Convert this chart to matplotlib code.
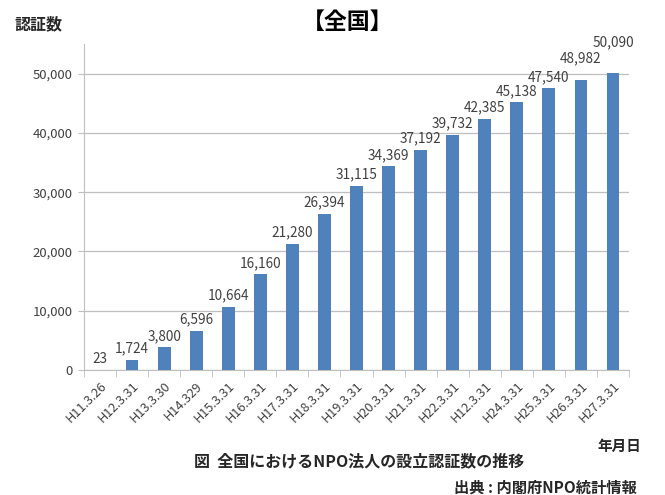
import matplotlib
matplotlib.use("Agg")
import matplotlib.pyplot as plt
import numpy as np

plt.rcParams['font.family'] = ['Noto Sans CJK JP', 'DejaVu Sans']

# Data
dates = ['H11.3.26', 'H12.3.31', 'H13.3.30', 'H14.329', 'H15.3.31', 'H16.3.31',
         'H17.3.31', 'H18.3.31', 'H19.3.31', 'H20.3.31', 'H21.3.31', 'H22.3.31',
         'H12.3.31', 'H24.3.31', 'H25.3.31', 'H26.3.31', 'H27.3.31']
counts = [23, 1724, 3800, 6596, 10664, 16160, 21280, 26394, 31115, 34369,
          37192, 39732, 42385, 45138, 47540, 48982, 50090]

# extra lift for labels that Excel pushed up to avoid overlap (points)
label_lift = [0] * 15 + [7, 14]

bar_color = '#4F81BD'
grid_color = '#BFBFBF'
text_color = '#404040'

fig = plt.figure(figsize=(6.65, 4.95), dpi=100)
ax = fig.add_axes([0.1263, 0.2525, 0.8196, 0.6586])

x = np.arange(len(counts))
ax.bar(x, counts, width=0.4, color=bar_color, zorder=3)

for xi, v, lift in zip(x, counts, label_lift):
    ax.annotate(f"{v:,}", (xi, v), xytext=(0, 3 + lift), textcoords='offset points',
                ha='center', va='bottom', fontsize=9.8, color=text_color,
                annotation_clip=False)

ax.set_xlim(-0.5, len(counts) - 0.5)
ax.set_ylim(0, 55000)
ax.set_yticks(np.arange(0, 50001, 10000))
ax.set_yticklabels([f"{t:,}" for t in range(0, 50001, 10000)], fontsize=9.5, color=text_color)
ax.yaxis.grid(True, color=grid_color, linewidth=0.9, zorder=0)

ax.set_xticks(x)
ax.set_xticklabels(dates, rotation=45, ha='right', rotation_mode='anchor',
                   fontsize=9.2, color=text_color)
ax.tick_params(axis='x', length=0, pad=7)
ax.set_xticks(np.arange(-0.5, len(counts), 1), minor=True)
ax.tick_params(axis='x', which='minor', length=5, color=grid_color)
ax.tick_params(axis='y', length=4, color=grid_color, pad=4)

for side in ['top', 'right']:
    ax.spines[side].set_visible(False)
ax.spines['left'].set_color(grid_color)
ax.spines['bottom'].set_color(grid_color)

fig.text(0.522, 0.954, '【全国】', ha='center', va='center', fontsize=16.5, fontweight='bold')
fig.text(0.022, 0.950, '認証数', ha='left', va='center', fontsize=11.5, fontweight='bold', color='#262626')
fig.text(0.965, 0.099, '年月日', ha='right', va='center', fontsize=10.5, fontweight='bold', color='#262626')
fig.text(0.540, 0.069, '図  全国におけるNPO法人の設立認証数の推移', ha='center', va='center',
         fontsize=11.5, fontweight='bold', color='#262626')
fig.text(0.958, 0.015, '出典 : 内閣府NPO統計情報', ha='right', va='center', fontsize=11,
         fontweight='bold', color='#262626')

fig.savefig('out.png', dpi=100)
